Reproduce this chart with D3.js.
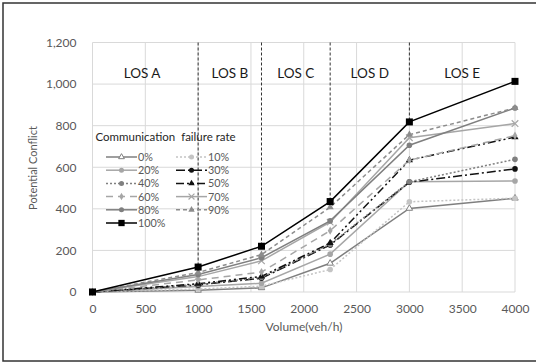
<!DOCTYPE html>
<html><head><meta charset="utf-8">
<script src="https://cdn.jsdelivr.net/npm/d3@7"></script>
<style>body{margin:0;background:#fff}svg{display:block;font-family:Lato,"Open Sans",sans-serif}</style>
</head><body><svg id="c" width="536" height="363"></svg>
<script>
const volumes = [0, 1000, 1600, 2250, 3000, 4000];
const rate0   = [0, 8, 20, 138, 402, 451];
const rate10  = [0, 14, 28, 108, 434, 451];
const rate20  = [0, 26, 42, 182, 530, 534];
const rate30  = [0, 34, 66, 226, 528, 592];
const rate40  = [0, 37, 70, 230, 530, 638];
const rate50  = [0, 40, 75, 236, 634, 745];
const rate60  = [0, 58, 96, 295, 634, 752];
const rate70  = [0, 74, 150, 336, 742, 810];
const rate80  = [0, 84, 165, 342, 706, 885];
const rate90  = [0, 94, 180, 408, 757, 885];
const rate100 = [0, 120, 220, 435, 818, 1013];
const seriesNames = ["0%","10%","20%","30%","40%","50%","60%","70%","80%","90%","100%"];
const losBounds = [1000, 1600, 2250, 3000];
const losLabels = ["LOS A","LOS B","LOS C","LOS D","LOS E"];
const losLabelX = [470, 1300, 1925, 2625, 3500];
const yTicks = [0, 200, 400, 600, 800, 1000, 1200];
const xTicks = [0, 500, 1000, 1500, 2000, 2500, 3000, 3500, 4000];

const seriesValues = [rate0, rate10, rate20, rate30, rate40, rate50, rate60, rate70, rate80, rate90, rate100];
const styles = [
  {c:"#7f7f7f", d:null, m:"tri-open", w:1.5},
  {c:"#c4c4c4", d:"2,2", m:"circle", w:1.5},
  {c:"#a6a6a6", d:null, m:"circle", w:1.5},
  {c:"#111", d:"9,3,2,3", m:"circle", w:1.5},
  {c:"#808080", d:"2,2", m:"circle", w:1.5},
  {c:"#111", d:"8,3,2,3,2,3", m:"tri", w:1.5},
  {c:"#a6a6a6", d:"7,5", m:"diamond", w:1.5},
  {c:"#a6a6a6", d:null, m:"x", w:1.5},
  {c:"#7f7f7f", d:null, m:"circle", w:1.5},
  {c:"#8c8c8c", d:"4,3", m:"tri", w:1.5},
  {c:"#000", d:null, m:"square", w:1.5}
];

const svg = d3.select("#c");
svg.append("rect").attr("x",3).attr("y",3).attr("width",560).attr("height",358)
  .attr("fill","none").attr("stroke","#333").attr("stroke-width",1.5);

const x = d3.scaleLinear().domain([0,4000]).range([92.5,515]);
const y = d3.scaleLinear().domain([0,1200]).range([292,42.5]);

// gridlines
svg.append("g").selectAll("line").data(yTicks).join("line")
  .attr("x1",x(0)).attr("x2",x(4000)).attr("y1",d=>y(d)).attr("y2",d=>y(d))
  .attr("stroke","#d9d9d9").attr("stroke-width",1);
svg.append("g").selectAll("line").data(xTicks).join("line")
  .attr("x1",d=>x(d)).attr("x2",d=>x(d)).attr("y1",y(0)).attr("y2",y(1200))
  .attr("stroke","#d9d9d9").attr("stroke-width",1);

// axes (labels only)
const xAxis = svg.append("g").attr("transform",`translate(0,${y(0)})`)
  .call(d3.axisBottom(x).tickValues(xTicks).tickSize(0).tickPadding(12).tickFormat(d3.format("d")));
xAxis.select(".domain").remove();
xAxis.selectAll("text").attr("fill","#595959").attr("font-size",12).attr("font-family","Lato");
const yAxis = svg.append("g").attr("transform",`translate(${x(0)},0)`)
  .call(d3.axisLeft(y).tickValues(yTicks).tickSize(0).tickPadding(16).tickFormat(d3.format(",")));
yAxis.select(".domain").remove();
yAxis.selectAll("text").attr("fill","#595959").attr("font-size",12).attr("font-family","Lato");

svg.append("text").attr("x",304).attr("y",331).attr("text-anchor","middle")
  .attr("font-size",12).attr("fill","#595959").text("Volume(veh/h)");
svg.append("text").attr("transform","translate(37,168) rotate(-90)").attr("text-anchor","middle")
  .attr("font-size",11).attr("fill","#595959").text("Potential Conflict");

// LOS boundaries
svg.append("g").selectAll("line").data(losBounds).join("line")
  .attr("x1",d=>x(d)).attr("x2",d=>x(d)).attr("y1",y(1200))
  .attr("y2",d=> d===1000 ? y(0) : y(rate100[volumes.indexOf(d)]))
  .attr("stroke","#333").attr("stroke-width",1).attr("stroke-dasharray","3,2");
svg.append("g").selectAll("text").data(losLabels).join("text")
  .attr("x",(d,i)=>x(losLabelX[i])).attr("y",78).attr("text-anchor","middle")
  .attr("font-size",13.5).attr("fill","#1a1a1a").text(d=>d);

function drawMarker(g, m, cx, cy, c, s) {
  s = s || 1;
  if (m==="circle") g.append("circle").attr("cx",cx).attr("cy",cy).attr("r",2.8*s).attr("fill",c);
  else if (m==="square") g.append("rect").attr("x",cx-3.5*s).attr("y",cy-3.5*s).attr("width",7*s).attr("height",7*s).attr("fill",c);
  else if (m==="tri") g.append("path").attr("d",d3.symbol(d3.symbolTriangle,22*s*s)()).attr("transform",`translate(${cx},${cy})`).attr("fill",c);
  else if (m==="tri-open") g.append("path").attr("d",d3.symbol(d3.symbolTriangle,18*s*s)()).attr("transform",`translate(${cx},${cy})`).attr("fill","#fff").attr("stroke",c).attr("stroke-width",1);
  else if (m==="diamond") g.append("path").attr("d",d3.symbol(d3.symbolDiamond,20*s*s)()).attr("transform",`translate(${cx},${cy})`).attr("fill",c);
  else if (m==="x") g.append("path").attr("d",d3.symbol(d3.symbolX,30*s*s)()).attr("transform",`translate(${cx},${cy})`).attr("fill","none").attr("stroke",c).attr("stroke-width",1.2);
}

const line = d3.line().x((d,i)=>x(volumes[i])).y(d=>y(d));
const gl = svg.append("g");
seriesValues.forEach((vals,k)=>{
  const st = styles[k];
  gl.append("path").attr("d",line(vals)).attr("fill","none").attr("stroke",st.c)
    .attr("stroke-width",st.w).attr("stroke-dasharray",st.d);
});
seriesValues.forEach((vals,k)=>{
  const st = styles[k];
  const g = gl.append("g");
  vals.forEach((v,i)=>drawMarker(g, st.m, x(volumes[i]), y(v), st.c));
});

// legend
const lg = svg.append("g");
lg.append("text").attr("x",95.5).attr("y",141).attr("font-size",11.5).attr("fill","#262626")
  .style("white-space","pre").text("Communication  failure rate");
const col1 = [0,2,4,6,8,10], col2 = [1,3,5,7,9];
function legendItem(k, x0, row) {
  const st = styles[k];
  const cy = 157 + row*13.2;
  lg.append("line").attr("x1",x0).attr("x2",x0+31).attr("y1",cy).attr("y2",cy)
    .attr("stroke",st.c).attr("stroke-width",st.w).attr("stroke-dasharray",st.d);
  drawMarker(lg, st.m, x0+15.5, cy, st.c, 0.9);
  lg.append("text").attr("x",x0+32).attr("y",cy+4).attr("font-size",10.8).attr("fill","#595959").text(seriesNames[k]);
}
col1.forEach((k,r)=>legendItem(k,106,r));
col2.forEach((k,r)=>legendItem(k,176,r));
</script></body></html>
